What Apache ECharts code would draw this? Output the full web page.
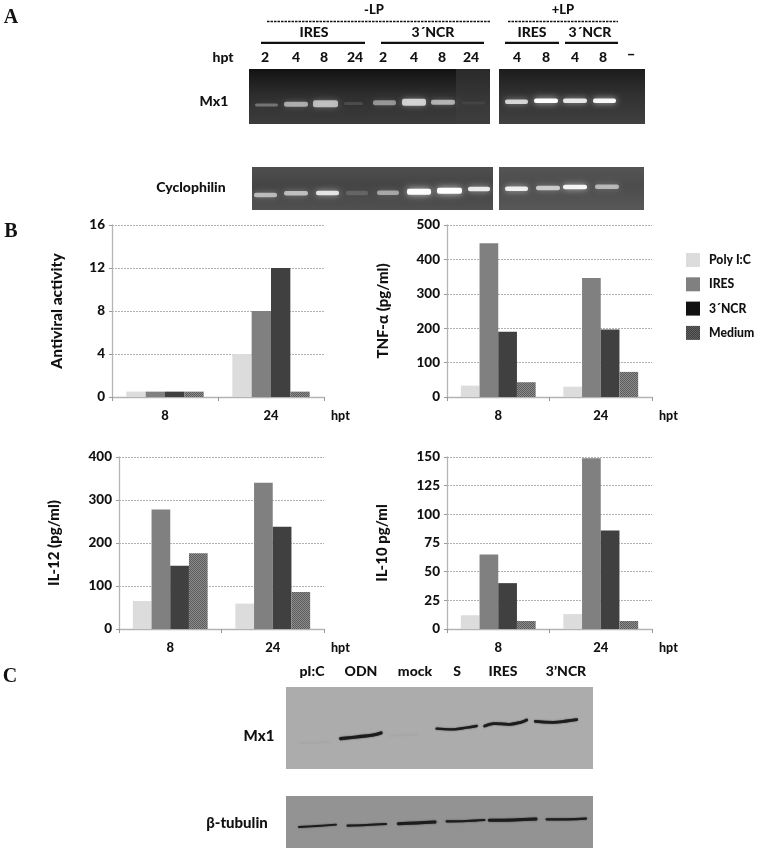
<!DOCTYPE html>
<html><head><meta charset="utf-8">
<style>html,body{margin:0;padding:0;background:#fff}#c{width:760px;height:857px;filter:blur(0.4px)}</style>
<script src="https://cdn.jsdelivr.net/npm/echarts@6/dist/echarts.min.js"></script>
</head><body><div id="c"></div>
<script>
// ---------- data ----------
const hptCategories = ['8', '24'];
const seriesNames = ['Poly I:C', 'IRES', '3´NCR', 'Medium'];
const antiviralPolyIC = [0.5, 4];
const antiviralIRES = [0.5, 8];
const antiviralNCR = [0.5, 12];
const antiviralMedium = [0.5, 0.5];
const tnfPolyIC = [33, 30];
const tnfIRES = [447, 346];
const tnfNCR = [190, 196];
const tnfMedium = [43, 73];
const il12PolyIC = [65, 59];
const il12IRES = [278, 340];
const il12NCR = [147, 238];
const il12Medium = [176, 86];
const il10PolyIC = [12, 13];
const il10IRES = [65, 149];
const il10NCR = [40, 86];
const il10Medium = [7, 7];
const laneLabelsMinus = ['2', '4', '8', '24', '2', '4', '8', '24'];
const laneLabelsPlus = ['4', '8', '4', '8'];
const westernLabels = ['pI:C', 'ODN', 'mock', 'S', 'IRES', '3’NCR'];
// relative band brightness read from the gels
const mx1Minus = [0.3, 0.55, 0.62, 0.12, 0.45, 0.72, 0.58, 0.06];
const mx1Plus = [0.75, 1, 0.85, 0.95];
const cycMinus = [0.58, 0.6, 0.82, 0.15, 0.48, 1, 1, 0.85];
const cycPlus = [0.88, 0.66, 0.92, 0.56];

// ---------- layout / style ----------
const FONT = 'Lato';
function T(text, x, y, size, extra) {
  return Object.assign({type:'text', z:10, x, y, style:{text, fill:'#111', font:`900 ${size}px ${FONT}`, align:'center', verticalAlign:'middle'}}, extra||{});
}
function rect(x,y,w,h,fill,z){return {type:'rect',z:z||1,shape:{x,y,width:w,height:h},style:{fill}};}
function grad(c1,c2,c3){return new echarts.graphic.LinearGradient(0,0,0,1,[{offset:0,color:c1},{offset:0.45,color:c2},{offset:1,color:c3}]);}
function band(x0,x1,y,b,h){
  return {type:'rect',z:3,shape:{x:x0,y:y-h/2,width:x1-x0,height:h,r:2},
    style:{fill:'rgba(255,255,255,'+b+')',shadowBlur:5+2*b,shadowColor:'rgba(255,255,255,'+(0.75*b)+')'}};
}
function wband(pts,w,color){
  return {type:'polyline',z:3,shape:{points:pts.map(p=>[200+p[0]/3,660+p[1]/3]),smooth:0.4},
    style:{fill:'none',stroke:color||'#1c1c1c',lineWidth:w,lineCap:'round',shadowBlur:1.5,shadowColor:color||'#333'}};
}
const g = [];
// panel letters
[['A',11,18],['B',11,232],['C',10,677]].forEach(p=>g.push({type:'text',z:10,x:p[1],y:p[2],style:{text:p[0],fill:'#111',font:'bold 20px "Liberation Serif"',align:'center',verticalAlign:'middle'}}));
// A header
g.push(T('-LP',374,10,13), T('+LP',563,10,13));
g.push({type:'line',z:2,shape:{x1:267,y1:21.5,x2:490,y2:21.5},style:{stroke:'#111',lineWidth:1.6,lineDash:[2.5,1]}});
g.push({type:'line',z:2,shape:{x1:508,y1:21.5,x2:618,y2:21.5},style:{stroke:'#111',lineWidth:1.6,lineDash:[2.5,1]}});
[[314,'IRES'],[433,'3´NCR'],[532,'IRES'],[590,'3´NCR']].forEach(a=>g.push(T(a[1],a[0],32,14)));
[[261,365],[381,484],[505,559],[565,618]].forEach(a=>g.push(rect(a[0],41.7,a[1]-a[0],2.4,'#111',2)));
g.push(T('hpt',223,57,14));
[265,296,324,355,383,414,442,471].forEach((x,i)=>g.push(T(laneLabelsMinus[i],x,57,14)));
[517,546,575,603].forEach((x,i)=>g.push(T(laneLabelsPlus[i],x,57,14)));
g.push(T('–',631,54,15));
g.push(T('Mx1',214,101,14), T('Cyclophilin',191,187,14));
// gels
g.push(rect(249,69,241,55,grad('#121212','#2c2c2c','#3c3c3c')));
g.push(rect(456,69,34,55,grad('#2a2a2a','#343434','#3e3e3e'),2));
g.push(rect(499,69,146,55,grad('#1c1c1c','#303030','#404040')));
g.push(rect(252,167,241,43,grad('#4e4e4e','#444','#505050')));
g.push(rect(499,167,145,43,grad('#545454','#4c4c4c','#585858')));
[[255,278,105],[284,308,104.3],[313,338,103.7],[344,363,103.5],[373,396,102.7],[402,426,102.3],[431,455,102.3],[462,485,103]].forEach((a,i)=>g.push(band(a[0],a[1],a[2],mx1Minus[i],i==2||i==5?7:i==0||i==3||i==7?3:5)));
[[505,528,101.7],[534,558,100.7],[563,587,100.7],[593,616,100.7]].forEach((a,i)=>g.push(band(a[0],a[1],a[2],mx1Plus[i],4.5)));
[[254,277,195],[284,308,193.3],[316,339,193],[346,368,193],[377,399,192.7],[407,431,191.7],[437,462,190.7],[468,490,189]].forEach((a,i)=>g.push(band(a[0],a[1],a[2],cycMinus[i],i==5||i==6?6:4.5)));
[[505,528,188.7],[536,560,188],[563,587,187],[595,619,186.7]].forEach((a,i)=>g.push(band(a[0],a[1],a[2],cycPlus[i],4.5)));
// C western
g.push(rect(286,687,307,82,'#acacac'), rect(286,796,307,52,'#939393'));
[312,361,415,457,503,566].forEach((x,i)=>g.push(T(westernLabels[i],x,671,14)));
g.push(T('Mx1',259,736,15), T('β-tubulin',237,823,15));
g.push(wband([[300,249],[390,247]],1.5,'#a7a7a7'), wband([[570,227],[650,224]],1.5,'#a7a7a7'));
g.push(wband([[422,236],[470,231],[520,225],[543,219]],3.2),
  wband([[710,206],[760,208],[800,203],[830,198]],2.4),
  wband([[854,198],[880,191],[930,193],[962,187],[980,180]],2.8),
  wband([[1006,184],[1060,187],[1100,183],[1130,179]],2.8));
g.push(wband([[297,501],[350,498],[408,494]],1.8), wband([[443,497],[500,495],[558,492]],2.2),
  wband([[595,491],[650,489],[705,486]],3), wband([[740,484],[800,483],[853,480]],2.2),
  wband([[868,481],[940,480],[1008,477]],3), wband([[1040,478],[1100,478],[1158,476]],2.2));

// patterned "Medium" fill
function pattern(a,b){
  const cv=document.createElement('canvas');cv.width=2;cv.height=2;
  const x=cv.getContext('2d');x.fillStyle=a;x.fillRect(0,0,2,2);x.fillStyle=b;x.fillRect(0,0,1,1);x.fillRect(1,1,1,1);
  return {image:cv,repeat:'repeat'};
}
const medium = pattern('#8c8c8c','#5c5c5c');
const mediumLegend = pattern('#3a3a3a','#666');
const colors = ['#dcdcdc','#808080','#404040',medium];

const charts = [
  {rect:[112,225,212,172], max:16, interval:4, name:'Antiviral activity', gap:47, nameSize:15.5, vals:[antiviralPolyIC,antiviralIRES,antiviralNCR,antiviralMedium]},
  {rect:[447,225,205,172], max:500, interval:100, name:'TNF-α (pg/ml)', gap:56, nameSize:15, vals:[tnfPolyIC,tnfIRES,tnfNCR,tnfMedium]},
  {rect:[119,457,205,172], max:400, interval:100, name:'IL-12 (pg/ml)', gap:57, nameSize:15, vals:[il12PolyIC,il12IRES,il12NCR,il12Medium]},
  {rect:[447,457,205,172], max:150, interval:25, name:'IL-10 pg/ml', gap:57, nameSize:15, vals:[il10PolyIC,il10IRES,il10NCR,il10Medium]}
];
const labelStyle = {color:'#111', fontFamily:FONT, fontWeight:900, fontSize:13};
const axisCol = '#b4b4b4';
const option = {
  animation:false,
  backgroundColor:'#fff',
  graphic:{elements:g},
  legend:{left:681, top:248, orient:'vertical', itemWidth:14, itemHeight:14, itemGap:10.3, icon:'rect',
    textStyle:{color:'#111', fontFamily:FONT, fontWeight:900, fontSize:12.2, padding:[0,0,0,4]},
    data:[
      {name:seriesNames[0], itemStyle:{color:'#dcdcdc'}},
      {name:seriesNames[1], itemStyle:{color:'#808080'}},
      {name:seriesNames[2], itemStyle:{color:'#111'}},
      {name:seriesNames[3], itemStyle:{color:mediumLegend}}
    ]},
  grid:charts.map(c=>({left:c.rect[0],top:c.rect[1],width:c.rect[2],height:c.rect[3],containLabel:false})),
  xAxis:charts.map((c,i)=>({gridIndex:i,type:'category',data:hptCategories,
    name:'hpt',nameLocation:'end',nameGap:7,nameTextStyle:Object.assign({},labelStyle,{fontSize:12.5,align:'left',verticalAlign:'top',padding:[12,0,0,0]}),
    axisLine:{lineStyle:{color:axisCol,width:1.3}},axisTick:{show:true,length:4,lineStyle:{color:'#999'}},
    axisLabel:Object.assign({},labelStyle,{margin:12}),splitLine:{show:false}})),
  yAxis:charts.map((c,i)=>({gridIndex:i,type:'value',min:0,max:c.max,interval:c.interval,
    name:c.name,nameLocation:'middle',nameGap:c.gap,nameRotate:90,
    nameTextStyle:Object.assign({},labelStyle,{fontSize:c.nameSize}),
    axisLine:{show:true,lineStyle:{color:axisCol,width:1.3}},axisTick:{show:true,length:3,lineStyle:{color:'#999'}},
    axisLabel:Object.assign({},labelStyle,{fontSize:13.5,margin:7}),
    splitLine:{show:true,lineStyle:{color:'#b0b0b0',width:1,type:[2,1]}}})),
  series:charts.flatMap((c,i)=>c.vals.map((v,k)=>({
    type:'bar',name:seriesNames[k],xAxisIndex:i,yAxisIndex:i,data:v,barGap:0,barCategoryGap:'27%',
    itemStyle:{color:colors[k]},emphasis:{disabled:true},z:3})))
};
const chart = echarts.init(document.getElementById('c'),null,{renderer:'canvas'});
chart.setOption(option);
</script></body></html>
